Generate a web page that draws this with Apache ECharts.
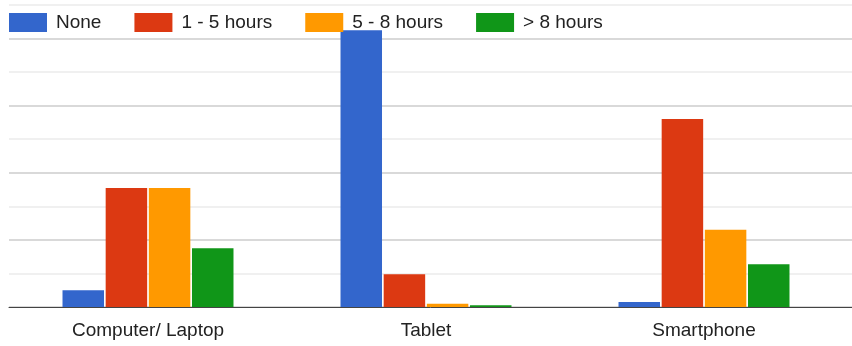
<!DOCTYPE html>
<html>
<head>
<meta charset="utf-8">
<script src="https://cdn.jsdelivr.net/npm/echarts@6/dist/echarts.min.js"></script>
<style>
  html, body { margin: 0; padding: 0; background: #fff; }
  #chart { width: 852px; height: 346px; }
</style>
</head>
<body>
<div id="chart"></div>
<script>
const categories = ['Computer/ Laptop', 'Tablet', 'Smartphone'];
const seriesNames = ['None', '1 - 5 hours', '5 - 8 hours', '> 8 hours'];
const noneValues = [10, 165, 3];
const oneToFiveValues = [71, 19.5, 112];
const fiveToEightValues = [71, 2, 46];
const overEightValues = [35, 1, 25.5];
const colors = ['#3366cc', '#dc3912', '#ff9900', '#109618'];

const FONT = '"Liberation Sans", Arial, sans-serif';
const seriesData = [noneValues, oneToFiveValues, fiveToEightValues, overEightValues];

const chart = echarts.init(document.getElementById('chart'), null, { renderer: 'canvas' });
chart.setOption({
  animation: false,
  backgroundColor: '#ffffff',
  color: colors,
  legend: {
    left: 9,
    top: 13,
    padding: 0,
    icon: 'rect',
    itemWidth: 38,
    itemHeight: 19,
    itemGap: 33,
    textStyle: { fontFamily: FONT, fontSize: 19, color: '#222222', padding: [0, 0, 0, 4] },
    data: seriesNames
  },
  grid: [
    { left: 9, right: 0, top: 5, bottom: 39 },
    { left: 9, right: 9, top: 5, bottom: 39 }
  ],
  xAxis: [
    {
      gridIndex: 0, type: 'value', min: 0, max: 1,
      axisLine: { show: true, lineStyle: { color: '#444444', width: 1 } },
      axisTick: { show: false }, axisLabel: { show: false }, splitLine: { show: false }
    },
    {
      gridIndex: 1, type: 'category', data: categories,
      axisLine: { show: false }, axisTick: { show: false },
      axisLabel: { fontFamily: FONT, fontSize: 19, color: '#222222', margin: 14 }
    }
  ],
  yAxis: [
    {
      gridIndex: 0, type: 'value', min: 0, max: 180, interval: 20,
      axisLine: { show: false }, axisTick: { show: false }, axisLabel: { show: false },
      splitLine: { show: true, lineStyle: { color: ['#cccccc', '#ebebeb'], width: 1.5 } }
    },
    {
      gridIndex: 1, type: 'value', min: 0, max: 180, interval: 20,
      axisLine: { show: false }, axisTick: { show: false }, axisLabel: { show: false },
      splitLine: { show: false }
    }
  ],
  series: seriesNames.map((name, i) => ({
    name: name,
    type: 'bar',
    xAxisIndex: 1,
    yAxisIndex: 1,
    data: seriesData[i],
    barWidth: 41.5,
    barGap: '4%',
    itemStyle: { color: colors[i] }
  }))
});
</script>
</body>
</html>
